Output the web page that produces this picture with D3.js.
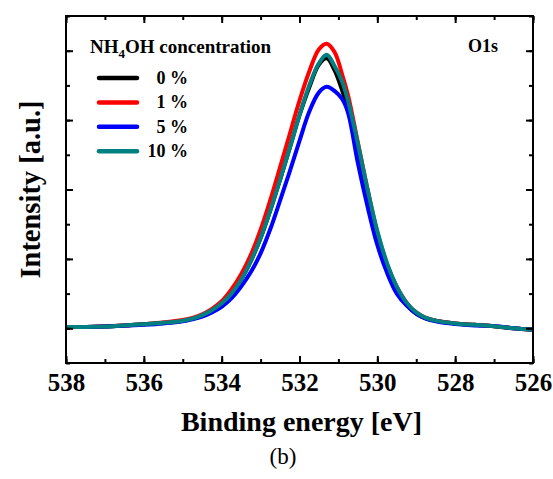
<!DOCTYPE html>
<html><head><meta charset="utf-8">
<script src="https://cdn.jsdelivr.net/npm/d3@7"></script>
<style>body{margin:0;background:#fff}svg{display:block}</style>
</head><body>
<svg id="c" width="553" height="479"></svg>
<script>
const energy = [538,537.5,537,536.5,536,535.5,535,534.75,534.5,534.25,534,533.75,533.5,533.25,533,532.75,532.5,532.25,532,531.75,531.5,531.3,531.1,530.9,530.75,530.5,530.25,530,529.75,529.5,529.25,529,528.75,528.5,528,527.5,527,526.5,526];
const conc0  = [0.02,0.02,0.025,0.04,0.06,0.08,0.11,0.14,0.19,0.26,0.36,0.50,0.70,0.97,1.30,1.70,2.14,2.6,3.07,3.47,3.8,3.89,3.72,3.42,3.15,2.55,1.9,1.32,0.88,0.55,0.34,0.21,0.14,0.11,0.07,0.05,0.03,0.0,-0.02];
const conc1  = [0.02,0.02,0.03,0.04,0.06,0.085,0.12,0.15,0.2,0.28,0.39,0.56,0.78,1.06,1.42,1.85,2.32,2.8,3.28,3.7,4.02,4.10,3.98,3.65,3.35,2.68,2.0,1.38,0.92,0.6,0.37,0.23,0.15,0.11,0.07,0.05,0.03,0.0,-0.02];
const conc5  = [0.015,0.02,0.025,0.035,0.05,0.07,0.1,0.13,0.17,0.23,0.31,0.43,0.6,0.81,1.08,1.43,1.84,2.26,2.7,3.12,3.4,3.48,3.42,3.3,3.1,2.38,1.75,1.2,0.8,0.5,0.33,0.21,0.14,0.1,0.06,0.04,0.035,0.0,-0.02];
const conc10 = [0.02,0.02,0.025,0.04,0.06,0.08,0.11,0.14,0.19,0.26,0.36,0.50,0.70,0.97,1.30,1.70,2.14,2.6,3.07,3.5,3.82,3.94,3.78,3.55,3.27,2.66,2.0,1.40,0.94,0.6,0.37,0.23,0.15,0.11,0.07,0.05,0.03,0.0,-0.02];
const seriesLabels = ["0 %","1 %","5 %","10 %"];
const seriesColors = ["#000000","#ff0000","#0000ff","#008080"];
const xTicks = [538,536,534,532,530,528,526];

const series = [conc0, conc1, conc5, conc10];
const svg = d3.select("#c");
const L=66, R=533, T=16, B=363;
const x = d3.scaleLinear().domain([538,526]).range([L,R]);
const y = d3.scaleLinear().domain([-0.5,4.5]).range([B,T]);
const font = "'Liberation Serif','Times New Roman',serif";

// curves
const line = d3.line().x((d,i)=>x(energy[i])).y(d=>y(d)).curve(d3.curveCatmullRom.alpha(0.5));
const g = svg.append("g");
series.forEach((s,k)=>{
  g.append("path").attr("d", line(s)).attr("fill","none")
   .attr("stroke", seriesColors[k]).attr("stroke-width",4).attr("stroke-linejoin","round");
});

// axes with inward ticks
const xMinor = d3.range(538,525.5,-1);
const yMajor = [0,1,2,3,4];
const yMinor = d3.range(-0.5,4.51,0.5);
function addAxis(axis, tf){
  const a = svg.append("g").attr("transform",tf).call(axis);
  a.selectAll("path").remove();
  a.selectAll("line").attr("stroke","#000").attr("stroke-width",2);
  return a;
}
// bottom
addAxis(d3.axisBottom(x).tickValues(xMinor).tickSize(-4).tickFormat(""), `translate(0,${B})`);
const bx = addAxis(d3.axisBottom(x).tickValues(xTicks).tickSize(-7).tickPadding(10).tickFormat(d3.format("d")), `translate(0,${B})`);
bx.selectAll("text").attr("font-family",font).attr("font-weight","bold").attr("font-size",25).attr("fill","#000");
// top
addAxis(d3.axisTop(x).tickValues(xMinor).tickSize(-4).tickFormat(""), `translate(0,${T})`);
addAxis(d3.axisTop(x).tickValues(xTicks).tickSize(-7).tickFormat(""), `translate(0,${T})`);
// left
addAxis(d3.axisLeft(y).tickValues(yMinor).tickSize(-4).tickFormat(""), `translate(${L},0)`);
addAxis(d3.axisLeft(y).tickValues(yMajor).tickSize(-7).tickFormat(""), `translate(${L},0)`);
// right
addAxis(d3.axisRight(y).tickValues(yMinor).tickSize(-4).tickFormat(""), `translate(${R},0)`);
addAxis(d3.axisRight(y).tickValues(yMajor).tickSize(-7).tickFormat(""), `translate(${R},0)`);

// frame
svg.append("rect").attr("x",L).attr("y",T).attr("width",R-L).attr("height",B-T)
  .attr("fill","none").attr("stroke","#000").attr("stroke-width",2);

// axis titles
svg.append("text").attr("x",(L+R)/2+2).attr("y",431).attr("text-anchor","middle")
  .attr("font-family",font).attr("font-weight","bold").attr("font-size",28).text("Binding energy [eV]");
svg.append("text").attr("transform",`translate(40,${(T+B)/2}) rotate(-90)`).attr("text-anchor","middle")
  .attr("font-family",font).attr("font-weight","bold").attr("font-size",28.5).text("Intensity [a.u.]");
svg.append("text").attr("x",283).attr("y",464).attr("text-anchor","middle")
  .attr("font-family",font).attr("font-size",23).text("(b)");

// O1s
svg.append("text").attr("x",498).attr("y",52).attr("text-anchor","end")
  .attr("font-family",font).attr("font-weight","bold").attr("font-size",18).text("O1s");

// legend
const lt = svg.append("text").attr("x",90).attr("y",53)
  .attr("font-family",font).attr("font-weight","bold").attr("font-size",19);
lt.append("tspan").text("NH");
lt.append("tspan").attr("dy",5).attr("font-size",13).text("4");
lt.append("tspan").attr("dy",-5).text("OH concentration");
seriesLabels.forEach((lab,k)=>{
  const yy = 78 + k*24.4;
  svg.append("line").attr("x1",99).attr("x2",137).attr("y1",yy).attr("y2",yy)
    .attr("stroke",seriesColors[k]).attr("stroke-width",4.5).attr("stroke-linecap","round");
  svg.append("text").attr("x",188).attr("y",yy+6).attr("text-anchor","end")
    .attr("font-family",font).attr("font-weight","bold").attr("font-size",18).text(lab);
});
</script>
</body></html>
